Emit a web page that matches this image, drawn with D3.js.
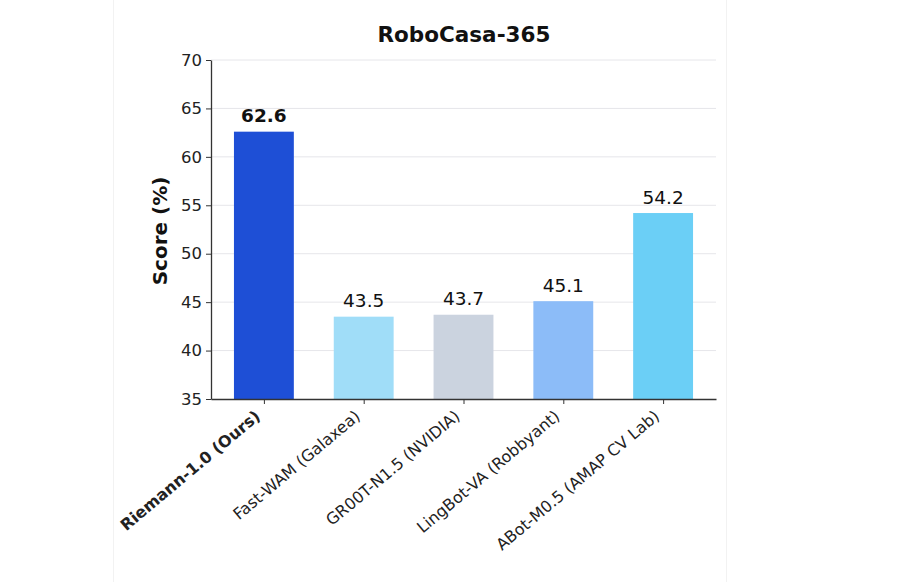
<!DOCTYPE html>
<html>
<head>
<meta charset="utf-8">
<script src="https://cdn.jsdelivr.net/npm/d3@7"></script>
<style>
  body { margin: 0; background: #fff; }
  svg { display: block; font-family: "DejaVu Sans", sans-serif; }
</style>
</head>
<body>
<div class="chart"></div>
<script>
// datos del gráfico
const models = ['Riemann-1.0 (Ours)', 'Fast-WAM (Galaxea)', 'GR00T-N1.5 (NVIDIA)', 'LingBot-VA (Robbyant)', 'ABot-M0.5 (AMAP CV Lab)'];
const scores = [62.6, 43.5, 43.7, 45.1, 54.2];
const colors = ['#1e4fd6', '#a0ddf8', '#cbd3df', '#8cbcf8', '#6bcff6'];
const yTicks = [35, 40, 45, 50, 55, 60, 65, 70];

const width = 900;
const height = 582;

// área del gráfico
const margin = { left: 211, right: 716, top: 60, bottom: 399 };

// escalas: x en índices de barra (como matplotlib), y en porcentaje
const x = d3.scaleLinear()
  .domain([-0.53, models.length - 1 + 0.53])
  .range([margin.left, margin.right]);

const y = d3.scaleLinear()
  .domain([35, 70])
  .range([margin.bottom, margin.top]);

const barWidth = x(0.6) - x(0);

const svg = d3.select('.chart')
  .append('svg')
  .attr('width', width)
  .attr('height', height);

// el panel de fondo, casi invisible
svg.append('rect')
  .attr('x', 113.5)
  .attr('y', -2)
  .attr('width', 613)
  .attr('height', height + 4)
  .attr('fill', '#fff')
  .attr('stroke', '#f2f2f2');

// rejilla horizontal
svg.append('g')
  .attr('class', 'grid')
  .selectAll('line')
  .data(yTicks.filter(d => d > 35))
  .join('line')
  .attr('x1', margin.left)
  .attr('x2', margin.right)
  .attr('y1', d => y(d))
  .attr('y2', d => y(d))
  .attr('stroke', '#e6e6ea')
  .attr('stroke-width', 1);

// barras
svg.append('g')
  .selectAll('rect')
  .data(scores)
  .join('rect')
  .attr('x', (d, i) => x(i) - barWidth / 2)
  .attr('y', d => y(d))
  .attr('width', barWidth)
  .attr('height', d => y(35) - y(d))
  .attr('fill', (d, i) => colors[i]);

// etiquetas de valor
svg.append('g')
  .selectAll('text')
  .data(scores)
  .join('text')
  .attr('x', (d, i) => x(i))
  .attr('y', d => y(d) - 9.5)
  .attr('text-anchor', 'middle')
  .attr('font-size', 18.5)
  .attr('font-weight', (d, i) => i === 0 ? 'bold' : 'normal')
  .attr('fill', '#111')
  .text(d => d.toFixed(1));

// eje y
const yAxis = d3.axisLeft(y)
  .tickValues(yTicks)
  .tickSize(5)
  .tickPadding(4)
  .tickSizeOuter(0);

svg.append('g')
  .attr('class', 'y axis')
  .attr('transform', `translate(${margin.left}, 0)`)
  .call(yAxis)
  .call(g => g.select('.domain').attr('stroke', '#333').attr('stroke-width', 1.3))
  .call(g => g.selectAll('.tick line').attr('stroke', '#333'))
  .call(g => g.selectAll('.tick text')
    .attr('font-size', 16.5)
    .attr('font-family', 'DejaVu Sans')
    .attr('fill', '#222'));

// eje x
const xAxis = d3.axisBottom(x)
  .tickValues(d3.range(models.length))
  .tickSize(5)
  .tickSizeOuter(0)
  .tickFormat(i => models[i]);

svg.append('g')
  .attr('class', 'x axis')
  .attr('transform', `translate(0, ${margin.bottom})`)
  .call(xAxis)
  .call(g => g.select('.domain').attr('stroke', '#333').attr('stroke-width', 1.3))
  .call(g => g.selectAll('.tick line').attr('stroke', '#333'))
  .call(g => g.selectAll('.tick text')
    .attr('font-size', 16)
    .attr('font-family', 'DejaVu Sans')
    .attr('fill', '#222')
    .attr('font-weight', (d, i) => i === 0 ? 'bold' : 'normal')
    .attr('text-anchor', 'end')
    .attr('x', -3)
    .attr('y', 19)
    .attr('dy', 0)
    .attr('transform', 'rotate(-40, -3, 19)'));

// título
svg.append('text')
  .attr('x', 464)
  .attr('y', 42)
  .attr('text-anchor', 'middle')
  .attr('font-size', 21.5)
  .attr('font-weight', 'bold')
  .attr('fill', '#111')
  .text('RoboCasa-365');

// título del eje y
svg.append('text')
  .attr('transform', `translate(167, 231) rotate(-90)`)
  .attr('text-anchor', 'middle')
  .attr('font-size', 20)
  .attr('font-weight', 'bold')
  .attr('fill', '#111')
  .text('Score (%)');
</script>
</body>
</html>
